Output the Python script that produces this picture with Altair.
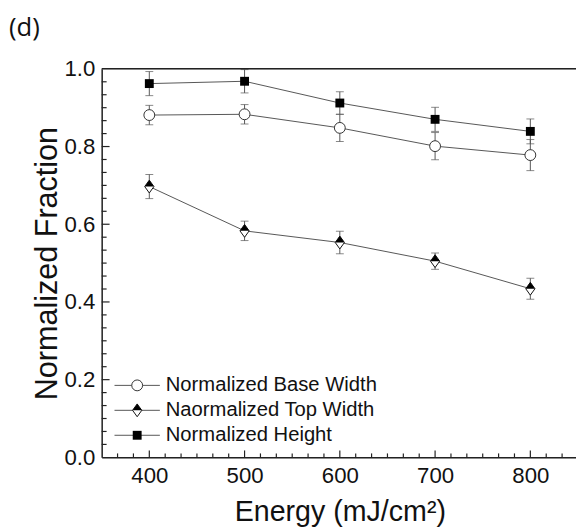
import altair as alt
import pandas as pd

# ---- data ----
energy = [400, 500, 600, 700, 800]
base_width = [0.881, 0.883, 0.848, 0.801, 0.778]
base_err = [0.025, 0.025, 0.035, 0.035, 0.040]
top_width = [0.697, 0.583, 0.553, 0.505, 0.434]
top_err = [0.031, 0.025, 0.029, 0.021, 0.027]
norm_height = [0.962, 0.968, 0.912, 0.870, 0.839]
height_err = [0.031, 0.030, 0.029, 0.031, 0.032]

series_names = ["Normalized Base Width", "Naormalized Top Width", "Normalized Height"]
x_tick_labels = [400, 500, 600, 700, 800]
y_tick_labels = [0.0, 0.2, 0.4, 0.6, 0.8, 1.0]
x_title = "Energy (mJ/cm²)"
y_title = "Normalized Fraction"
panel_label = "(d)"

# ---- layout ----
W, H = 481, 394
FONT = "Liberation Sans"
GREY = "#555555"
DIAMOND = "M-0.72,0L0,-1L0.72,0L0,1Z"
DIAMOND_TOP = "M-0.72,0L0,-1L0.72,0Z"

rows = []
for name, vals, errs in zip(series_names, [base_width, top_width, norm_height],
                            [base_err, top_err, height_err]):
    for e, v, s in zip(energy, vals, errs):
        rows.append({"energy": e, "value": v, "lo": v - s, "hi": v + s, "series": name})
df = pd.DataFrame(rows)

xscale = alt.Scale(domain=[350, 850], range=[0, 483], nice=False, zero=False)
yscale = alt.Scale(domain=[0, 1], nice=False)

X = alt.X("energy:Q", scale=xscale,
          axis=alt.Axis(values=x_tick_labels, format="d", ticks=False, grid=False,
                        domainColor="#222", domainWidth=1.5,
                        labelFont=FONT, labelFontSize=22.5, labelColor="#111", labelPadding=8,
                        title=x_title, titleFont=FONT, titleFontSize=29,
                        titleFontWeight="normal", titleColor="#111", titlePadding=11))
Y = alt.Y("value:Q", scale=yscale,
          axis=alt.Axis(values=y_tick_labels, format=".1f", ticks=False, grid=False,
                        domainColor="#222", domainWidth=1.5,
                        labelFont=FONT, labelFontSize=22.5, labelColor="#111", labelPadding=7,
                        title=y_title, titleFont=FONT, titleFontSize=31,
                        titleFontWeight="normal", titleColor="#111", titlePadding=1))

base = alt.Chart(df)

lines = base.mark_line(color=GREY, strokeWidth=1).encode(x=X, y=Y, detail="series:N")
bars = base.mark_rule(color=GREY, strokeWidth=1).encode(
    x=alt.X("energy:Q", scale=xscale), y=alt.Y("lo:Q", scale=yscale), y2="hi:Q")
caps = base.transform_fold(["lo", "hi"], as_=["k", "v"]).mark_tick(
    orient="horizontal", size=8, thickness=1, color=GREY).encode(
    x=alt.X("energy:Q", scale=xscale), y=alt.Y("v:Q", scale=yscale))

def sub(name):
    return base.transform_filter(alt.datum.series == name)

circles = sub(series_names[0]).mark_point(
    shape="circle", filled=True, fill="white", stroke="#333", strokeWidth=1,
    size=121, opacity=1).encode(x=alt.X("energy:Q", scale=xscale), y=alt.Y("value:Q", scale=yscale))
diam_o = sub(series_names[1]).mark_point(
    shape=DIAMOND, filled=True, fill="white", stroke="#111", strokeWidth=1,
    size=169, opacity=1).encode(x=alt.X("energy:Q", scale=xscale), y=alt.Y("value:Q", scale=yscale))
diam_t = sub(series_names[1]).mark_point(
    shape=DIAMOND_TOP, filled=True, fill="black", strokeWidth=0,
    size=169, opacity=1).encode(x=alt.X("energy:Q", scale=xscale), y=alt.Y("value:Q", scale=yscale))
squares = sub(series_names[2]).mark_point(
    shape="square", filled=True, fill="black", strokeWidth=0,
    size=81, opacity=1).encode(x=alt.X("energy:Q", scale=xscale), y=alt.Y("value:Q", scale=yscale))

# inward ticks
step = 100 / 6
xt = pd.DataFrame({"t": [350 + i * step for i in range(1, 30)],
                   "major": [i % 6 == 3 for i in range(1, 30)]})
yt = pd.DataFrame({"t": [i / 30 for i in range(1, 30)],
                   "major": [i % 6 == 0 for i in range(1, 30)]})
xmaj = alt.Chart(xt).transform_filter("datum.major").mark_rule(color="#222", strokeWidth=1.2).encode(
    x=alt.X("t:Q", scale=xscale), y=alt.value(H), y2=alt.value(H - 7))
xmin = alt.Chart(xt).transform_filter("!datum.major").mark_rule(color="#222", strokeWidth=1.2).encode(
    x=alt.X("t:Q", scale=xscale), y=alt.value(H), y2=alt.value(H - 4))
ymaj = alt.Chart(yt).transform_filter("datum.major").mark_rule(color="#222", strokeWidth=1.2).encode(
    y=alt.Y("t:Q", scale=yscale), x=alt.value(0), x2=alt.value(8))
ymin = alt.Chart(yt).transform_filter("!datum.major").mark_rule(color="#222", strokeWidth=1.2).encode(
    y=alt.Y("t:Q", scale=yscale), x=alt.value(0), x2=alt.value(5))
topline = alt.Chart(pd.DataFrame({"a": [0]})).mark_rule(color="#222", strokeWidth=1.5).encode(
    y=alt.value(0), x=alt.value(0), x2=alt.value(483))

# legend
leg_layers = []
leg_y = [321, 346.3, 371.6]
for i, name in enumerate(series_names):
    ldf = pd.DataFrame({"name": [name]})
    yy = leg_y[i]
    lc = alt.Chart(ldf)
    leg_layers.append(lc.mark_rule(color=GREY, strokeWidth=1).encode(
        x=alt.value(13), x2=alt.value(59), y=alt.value(yy)))
    if i == 0:
        leg_layers.append(lc.mark_point(shape="circle", filled=True, fill="white", stroke="#333",
                                        strokeWidth=1, size=121, opacity=1).encode(
            x=alt.value(36), y=alt.value(yy)))
    elif i == 1:
        leg_layers.append(lc.mark_point(shape=DIAMOND, filled=True, fill="white", stroke="#111",
                                        strokeWidth=1, size=169, opacity=1).encode(
            x=alt.value(36), y=alt.value(yy)))
        leg_layers.append(lc.mark_point(shape=DIAMOND_TOP, filled=True, fill="black",
                                        strokeWidth=0, size=169, opacity=1).encode(
            x=alt.value(36), y=alt.value(yy)))
    else:
        leg_layers.append(lc.mark_point(shape="square", filled=True, fill="black",
                                        strokeWidth=0, size=81, opacity=1).encode(
            x=alt.value(36), y=alt.value(yy)))
    leg_layers.append(lc.mark_text(align="left", baseline="middle", font=FONT, fontSize=20.5,
                                   color="#111").encode(
        text="name:N", x=alt.value(65), y=alt.value(yy)))

label = alt.Chart(pd.DataFrame({"t": [panel_label]})).mark_text(
    align="left", baseline="middle", font="Open Sans", fontSize=26, color="#111").encode(
    text="t:N", x=alt.value(-94), y=alt.value(-41))

chart = alt.layer(
    lines, bars, caps, circles, diam_o, diam_t, squares,
    xmaj, xmin, ymaj, ymin, topline, *leg_layers, label
).properties(
    width=W, height=H,
    autosize=alt.AutoSizeParams(type="none"),
    padding={"left": 95, "top": 58, "right": 0, "bottom": 72},
).configure_view(stroke=None).configure(background="white")

chart.save("out.html", embed_options={"renderer": "svg", "actions": False})
